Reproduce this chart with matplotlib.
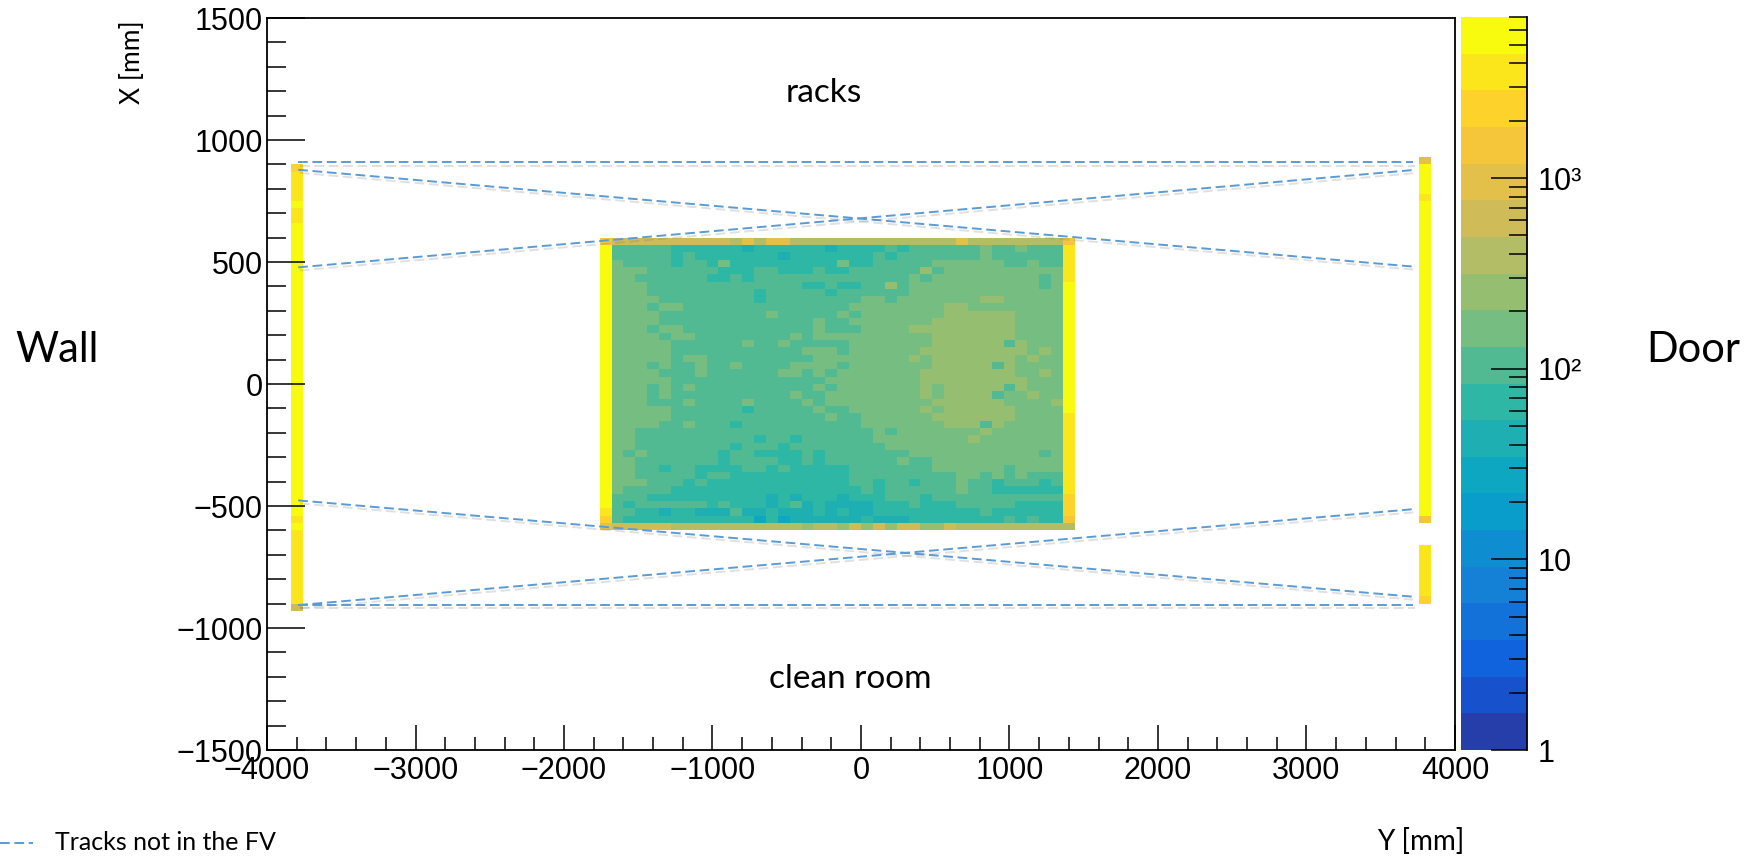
import numpy as np
import matplotlib
matplotlib.use("Agg")
import matplotlib.pyplot as plt
import matplotlib.patheffects as pe
from matplotlib.colors import ListedColormap, LogNorm
from matplotlib.lines import Line2D
from matplotlib.ticker import MultipleLocator, FixedLocator, NullFormatter

plt.rcParams['font.family'] = ['Liberation Sans', 'DejaVu Sans']

# ---------------------------------------------------------------- binning
x_edges = np.arange(-4000, 4001, 80)      # Y [mm], 100 bins
y_edges = np.arange(-1500, 1501, 30)      # X [mm], 100 bins

# ---------------------------------------------------------------- counts
# each bin is a colour-band code; run-length written as <code><repeat>
band_counts = {
    '7': 28, '8': 43, '9': 67, 'A': 104, 'B': 162, 'C': 253, 'D': 394,
    'E': 613, 'F': 954, 'G': 1486, 'H': 2313, 'I': 3600, 'J': 5600,
}

# central detector region: 40 x 40 bins, Y from -1760 to 1440, X from 600 down to -600
fv_rows = [
    "G E10 D F D F2 D14 F D8 G",
    "J A5 96 8 96 8 94 A 9 A6 B A2 B A3 I",
    "J A5 9 A 97 8 97 A 9 A7 B A6 I",
    "J B A4 9 A2 9 B 99 B 92 A5 B6 A2 B A2 I",
    "J B3 A6 93 A2 93 A 92 A6 C A B10 I",
    "J B2 A6 92 A 9 A13 B A B9 A B I",
    "J B3 A13 92 A 92 A2 C A B11 A B J",
    "J B3 A9 9 A5 9 A6 B13 J",
    "J B4 A8 9 A8 B2 A B7 C2 B5 J",
    "J B3 A B2 A14 B8 C2 B8 J",
    "J B4 A9 B A5 B A B7 C6 B4 J",
    "J B4 A13 B A2 B7 C7 B4 J",
    "J B3 A B2 A11 B A3 B4 C9 B4 J",
    "J B4 A B2 A8 B A B10 C7 B4 J",
    "J B5 A6 B A2 B A5 B7 C6 A C B3 J",
    "J B5 A11 B3 A B6 C9 B C B J",
    "J B5 A B2 A9 B8 C B C7 B C B2 J",
    "J B3 A B A2 B A2 B A4 B4 A B7 C5 A C B4 J",
    "J B4 A3 B A6 B2 A B A B7 C8 B2 C B J",
    "J B5 A13 B8 C9 B3 J",
    "J B3 A B A B A10 B A B7 C B C5 A C B3 J",
    "J B3 A B A10 B A2 B8 C B C4 A B2 C B2 J",
    "J B3 A3 B A4 B A4 B A B9 C6 B4 C J",
    "J B5 A6 9 A5 B A2 B6 C B C6 B4 J",
    "J B5 A13 B A2 B6 C7 B4 I",
    "J B4 A2 B A3 9 A10 B7 C3 A C B5 I",
    "J B2 A20 B A B7 C B6 I",
    "J B2 A10 9 A2 9 A6 B8 C B7 I",
    "J B2 A8 9 A3 9 A8 B15 I",
    "J B A B A6 9 A2 94 A 9 A7 B11 A B I",
    "J B2 A7 9 A4 92 A 9 A6 B A2 B11 I",
    "J B2 A2 9 A2 94 A2 9 A 95 A7 B6 A B4 I",
    "J B2 A5 9 A2 910 A9 B2 A B A B A3 I",
    "J B3 A3 9 A 912 A2 9 A2 9 A3 B A2 9 A3 9 A I",
    "J B A4 916 A 9 A6 B A2 96 I",
    "J A3 910 8 9 8 93 8 93 A3 9 A11 H",
    "J A 9 A6 9 A 93 8 9 A 8 9 84 93 A 93 A5 94 H",
    "I A2 92 8 92 83 A 82 9 83 9 8 9 82 99 A 96 H",
    "H A 911 7 9 7 86 9 83 98 A 9 A 92 G",
    "F E5 D11 C D2 C E C E C E2 C2 E D9 D",
]

# wall plane: Y from -3840 to -3760, X from 900 down to -930
wall_codes = "H I4 J I2 J40 I J I10 E"
# door plane: Y from 3760 to 3840, X from 930 down to -570, and from -660 down to -900
door_upper_codes = "F J4 I J43 G"
door_lower_codes = "I7 H"

# tracks leaving the fiducial volume: X at the two Y ends
track_y_ends = [-3790, 3720]
track_x_start = [908, 878, 478, -477, -906, -906]
track_x_end = [908, 481, 877, -872, -513, -906]

# ---------------------------------------------------------------- palette (ROOT kBird)
bird_stops = [0.0, 0.125, 0.25, 0.375, 0.5, 0.625, 0.75, 0.875, 1.0]
bird_r = [0.2082, 0.0592, 0.0780, 0.0232, 0.1802, 0.5301, 0.8186, 0.9956, 0.9764]
bird_g = [0.1664, 0.3599, 0.5041, 0.6419, 0.7178, 0.7492, 0.7328, 0.7862, 0.9832]
bird_b = [0.5293, 0.8684, 0.8385, 0.7914, 0.6425, 0.4662, 0.3499, 0.1968, 0.0539]
n_levels = 20
z_min, z_max = 1.0, 7000.0
pos = [(k + 0.99) / n_levels for k in range(n_levels)]
band_colors = np.column_stack([np.interp(pos, bird_stops, bird_r),
                               np.interp(pos, bird_stops, bird_g),
                               np.interp(pos, bird_stops, bird_b)])
cmap = ListedColormap(band_colors)
norm = LogNorm(vmin=z_min, vmax=z_max)


def expand(runs):
    out = []
    for tok in runs.split():
        out.extend([tok[0]] * (int(tok[1:]) if len(tok) > 1 else 1))
    return out


def y_index(x_mm_top):
    return int(round((x_mm_top - y_edges[0]) / 30)) - 1


def x_index(y_mm_left):
    return int(round((y_mm_left - x_edges[0]) / 80))


H = np.full((len(y_edges) - 1, len(x_edges) - 1), np.nan)

for r, row in enumerate(fv_rows):
    iy = y_index(600) - r
    for c, code in enumerate(expand(row)[:40]):
        H[iy, x_index(-1760) + c] = band_counts[code]

for r, code in enumerate(expand(wall_codes)):
    H[y_index(900) - r, x_index(-3840)] = band_counts[code]
for r, code in enumerate(expand(door_upper_codes)):
    H[y_index(930) - r, x_index(3760)] = band_counts[code]
for r, code in enumerate(expand(door_lower_codes)):
    H[y_index(-660) - r, x_index(3760)] = band_counts[code]

# ---------------------------------------------------------------- figure
W, Hpx = 1758, 860
fig = plt.figure(figsize=(W / 100, Hpx / 100), dpi=100)
ax = fig.add_axes([267 / W, 1 - 750 / Hpx, (1455 - 267) / W, (750 - 18) / Hpx])

mesh = ax.pcolormesh(x_edges, y_edges, np.ma.masked_invalid(H), cmap=cmap,
                     norm=norm, shading='flat', antialiased=False,
                     edgecolors='none')

ax.set_xlim(-4000, 4000)
ax.set_ylim(-1500, 1500)
ax.xaxis.set_major_locator(MultipleLocator(1000))
ax.xaxis.set_minor_locator(MultipleLocator(200))
ax.yaxis.set_major_locator(MultipleLocator(500))
ax.yaxis.set_minor_locator(MultipleLocator(100))
ax.tick_params(axis='x', which='major', direction='in', length=18, width=1.1,
               labelsize=22, pad=4, top=False)
ax.tick_params(axis='x', which='minor', direction='in', length=9.5, width=1.1,
               top=False)
ax.tick_params(axis='y', which='major', direction='in', length=27, width=1.1,
               labelsize=22, pad=3, right=False)
ax.tick_params(axis='y', which='minor', direction='in', length=14, width=1.1,
               right=False)
for s in ax.spines.values():
    s.set_linewidth(1.3)

# track lines
dash = (0, (5.0, 2.4))
shadow = [pe.SimpleLineShadow(offset=(1.2, -2.2), shadow_color='0.45', alpha=0.22),
          pe.Normal()]
for xs, xe in zip(track_x_start, track_x_end):
    ax.plot(track_y_ends, [xs, xe], color='#5B9BD5', lw=1.4,
            linestyle=dash, path_effects=shadow, zorder=3)

# colour scale
cax = fig.add_axes([1461 / W, 1 - 750 / Hpx, (1527 - 1461) / W, (750 - 17) / Hpx])
cb = fig.colorbar(mesh, cax=cax)
cb.outline.set_visible(False)
cax.yaxis.set_major_locator(FixedLocator([1, 10, 100, 1000]))
cax.yaxis.set_minor_locator(FixedLocator(
    [m * 10 ** e for e in range(4) for m in range(2, 10) if m * 10 ** e <= z_max]))
cax.yaxis.set_minor_formatter(NullFormatter())
cax.set_yticklabels(['1', '10', '10²', '10³'])
cax.tick_params(axis='y', which='major', direction='in', length=26, width=1.1,
                labelsize=22, pad=8, right=True, left=False)
cax.tick_params(axis='y', which='minor', direction='in', length=13, width=1.1,
                right=True, left=False)
cax.plot([1, 1], [0, 1], transform=cax.transAxes, color='black', lw=1.3,
         clip_on=False)

# annotations
txt = dict(family=['Lato', 'DejaVu Sans'], color='black')
fig.text(824 / W, 1 - 93 / Hpx, 'racks', fontsize=24, ha='center', va='center', **txt)
fig.text(850 / W, 1 - 679 / Hpx, 'clean room', fontsize=24, ha='center', va='center', **txt)
fig.text(57 / W, 1 - 350 / Hpx, 'Wall', fontsize=30, ha='center', va='center', **txt)
fig.text(1693 / W, 1 - 350 / Hpx, 'Door', fontsize=30, ha='center', va='center', **txt)
fig.text(132 / W, 1 - 62 / Hpx, 'X [mm]', fontsize=19, rotation=90,
         ha='center', va='center', **txt)
fig.text(1421 / W, 1 - 841 / Hpx, 'Y [mm]', fontsize=20, ha='center', va='center', **txt)

# legend entry
fig.add_artist(Line2D([0 / W, 33 / W], [1 - 843 / Hpx, 1 - 843 / Hpx],
                      transform=fig.transFigure, color='#5B9BD5', lw=1.4,
                      linestyle=dash))
fig.text(55 / W, 1 - 842 / Hpx, 'Tracks not in the FV', fontsize=18,
         ha='left', va='center', **txt)

fig.savefig('out.png', dpi=100)
